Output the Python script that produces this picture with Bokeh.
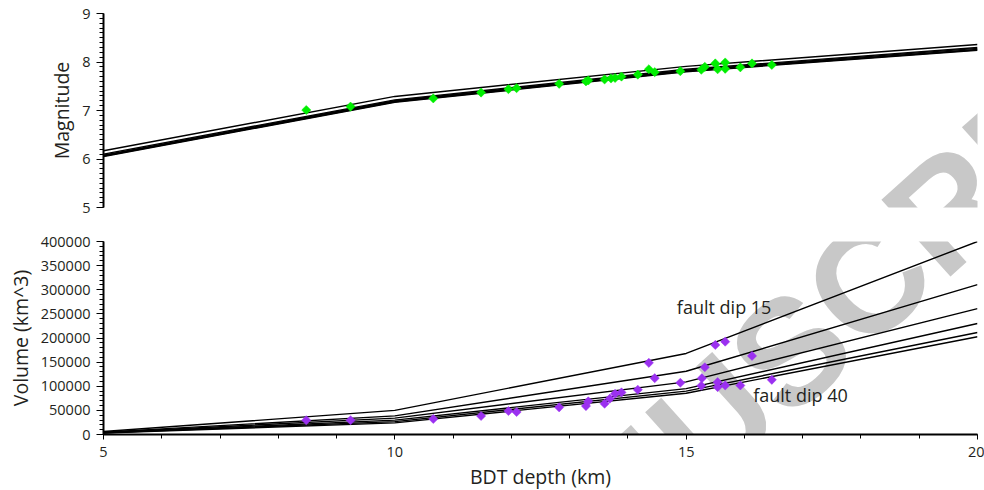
import math
from bokeh.plotting import figure
from bokeh.layouts import column
from bokeh.models import (Range1d, SingleIntervalTicker, BasicTickFormatter,
                          Label, ColumnDataSource)
from bokeh.embed import file_html
from bokeh.resources import INLINE
from bokeh.core.properties import value

# ---------------- data ----------------
bdt_depth_km = [5, 10, 15, 20]
fault_dips = [15, 20, 25, 30, 35, 40]

mag_dip15 = [6.17, 7.29, 7.91, 8.36]
mag_dip20 = [6.10, 7.22, 7.85, 8.30]
mag_dip25 = [6.08, 7.20, 7.83, 8.28]
mag_dip30 = [6.07, 7.19, 7.82, 8.26]
mag_dip35 = [6.06, 7.18, 7.81, 8.25]
mag_dip40 = [6.05, 7.17, 7.80, 8.24]

vol_dip15 = [6250, 50000, 168000, 400000]
vol_dip20 = [4840, 38700, 131000, 310500]
vol_dip25 = [4250, 34000, 109000, 261000]
vol_dip30 = [3730, 29800, 95000, 230000]
vol_dip35 = [3340, 26700, 90000, 211500]
vol_dip40 = [3000, 24000, 85500, 202700]

eq_depth_m = [8.48, 9.24, 10.66, 11.48, 11.95, 12.09, 12.82, 13.28, 13.32, 13.60,
              13.71, 13.78, 13.89, 14.17, 14.36, 14.46, 14.90, 15.26, 15.32, 15.50,
              15.54, 15.67, 15.67, 15.93, 16.13, 16.47]
eq_magnitude = [7.01, 7.08, 7.25, 7.37, 7.44, 7.46, 7.55, 7.60, 7.62, 7.64,
                7.66, 7.67, 7.70, 7.74, 7.85, 7.79, 7.81, 7.84, 7.90, 7.97,
                7.85, 7.99, 7.86, 7.89, 7.97, 7.94]

eq_depth_v = [8.48, 9.24, 10.66, 11.48, 11.95, 12.09, 12.82, 13.28, 13.32, 13.60,
              13.69, 13.78, 13.89, 14.17, 14.36, 14.46, 14.90, 15.26, 15.27, 15.32,
              15.50, 15.54, 15.54, 15.67, 15.67, 15.93, 16.13, 16.47]
eq_volume = [29500, 29500, 32200, 38400, 48700, 46600, 56300, 59000, 68700, 63900,
             74200, 84500, 87200, 92800, 148500, 116700, 107200, 101000, 116700, 139400,
             185600, 108500, 98200, 192400, 101700, 101700, 162900, 113400]

label_texts = ["fault dip 15", "fault dip 40"]
label_depth = [14.84, 16.15]
label_volume = [264500, 81000]

# ---------------- layout constants (page pixels) ----------------
FRAME_W = 874
TOP_FRAME_TOP, TOP_FRAME_H = 13, 194
BOT_FRAME_TOP, BOT_FRAME_H = 241, 193
FRAME_LEFT = 103
X0, X1 = 5, 20
M0, M1 = 5, 9
V0, V1 = 0, 400000

TXT = "#231f20"
FONT = "Open Sans"

xr = Range1d(X0, X1)

common = dict(output_backend="svg", toolbar_location=None, frame_width=FRAME_W,
              min_border_left=FRAME_LEFT, min_border_right=7, x_range=xr,
              background_fill_color="white", border_fill_color="white",
              outline_line_color=None)

p1 = figure(y_range=Range1d(M0, M1), frame_height=TOP_FRAME_H, min_border_top=13,
            min_border_bottom=14, x_axis_location=None, **common)
p2 = figure(y_range=Range1d(V0, V1), frame_height=BOT_FRAME_H, min_border_top=20,
            min_border_bottom=40, **common)


def style_axis(ax, tick_out=7, minor_out=4, standoff=6, label_standoff=4):
    ax.axis_line_width = 2
    ax.axis_line_color = "black"
    ax.major_tick_line_color = "black"
    ax.minor_tick_line_color = "black"
    ax.major_tick_in = 0
    ax.minor_tick_in = 0
    ax.major_tick_out = tick_out
    ax.minor_tick_out = minor_out
    ax.major_label_standoff = standoff
    ax.major_label_text_font = FONT
    ax.major_label_text_font_size = "14.5px"
    ax.major_label_text_color = TXT
    ax.axis_label_text_font = FONT
    ax.axis_label_text_font_size = "19.5px"
    ax.axis_label_text_font_style = "normal"
    ax.axis_label_text_color = TXT
    ax.axis_label_standoff = label_standoff


for p in (p1, p2):
    p.xgrid.grid_line_color = None
    p.ygrid.grid_line_color = None

p1.yaxis.ticker = SingleIntervalTicker(interval=1, num_minor_ticks=10)
p1.yaxis.axis_label = "Magnitude"
style_axis(p1.yaxis[0])

p2.yaxis.ticker = SingleIntervalTicker(interval=50000, num_minor_ticks=5)
p2.yaxis.formatter = BasicTickFormatter(use_scientific=False)
p2.yaxis.axis_label = "Volume (km^3)"
style_axis(p2.yaxis[0])

p2.xaxis.ticker = SingleIntervalTicker(interval=5, num_minor_ticks=5)
p2.xaxis.axis_label = "BDT depth (km)"
style_axis(p2.xaxis[0], tick_out=5, minor_out=4, standoff=7, label_standoff=3)

# ---------------- watermark (both frames, same page position) ----------------
WM_PX, WM_PY = 790, 350
WM_ANGLE = math.radians(42)


def px_to_x(px):
    return X0 + (px - FRAME_LEFT) / FRAME_W * (X1 - X0)


def py_to_top(py):
    return M1 - (py - TOP_FRAME_TOP) / TOP_FRAME_H * (M1 - M0)


def py_to_bot(py):
    return V1 - (py - BOT_FRAME_TOP) / BOT_FRAME_H * (V1 - V0)


for p, yv in ((p1, py_to_top(WM_PY)), (p2, py_to_bot(WM_PY))):
    p.add_layout(Label(x=px_to_x(WM_PX), y=yv, text="MANUSCRIPT", angle=WM_ANGLE,
                       text_align="center", text_baseline="middle",
                       text_font="Liberation Sans", text_font_style="bold",
                       text_font_size="150px", text_color="#c8c8c8",
                       level="underlay"))

# ---------------- model curves ----------------
for ys in (mag_dip15, mag_dip20, mag_dip25, mag_dip30, mag_dip35, mag_dip40):
    p1.line(bdt_depth_km, ys, line_color="black", line_width=1.4)
for ys in (vol_dip15, vol_dip20, vol_dip25, vol_dip30, vol_dip35, vol_dip40):
    p2.line(bdt_depth_km, ys, line_color="black", line_width=1.4)

# ---------------- observations ----------------
p1.scatter(eq_depth_m, eq_magnitude, marker="square", angle=math.pi / 4, size=6.5,
           fill_color="#00ee00", line_color="#00ee00", line_width=0.5)
p2.scatter(eq_depth_v, eq_volume, marker="square", angle=math.pi / 4, size=6.5,
           fill_color="#9b30f0", line_color="#9b30f0", line_width=0.5)

src = ColumnDataSource(dict(x=label_depth, y=label_volume, t=label_texts))
p2.text(x="x", y="y", text="t", source=src, text_font=value(FONT),
        text_font_size="18px", text_color=TXT, text_align="left",
        text_baseline="middle")

layout = column(p1, p2)
open("out.html", "w").write(file_html(layout, INLINE))
